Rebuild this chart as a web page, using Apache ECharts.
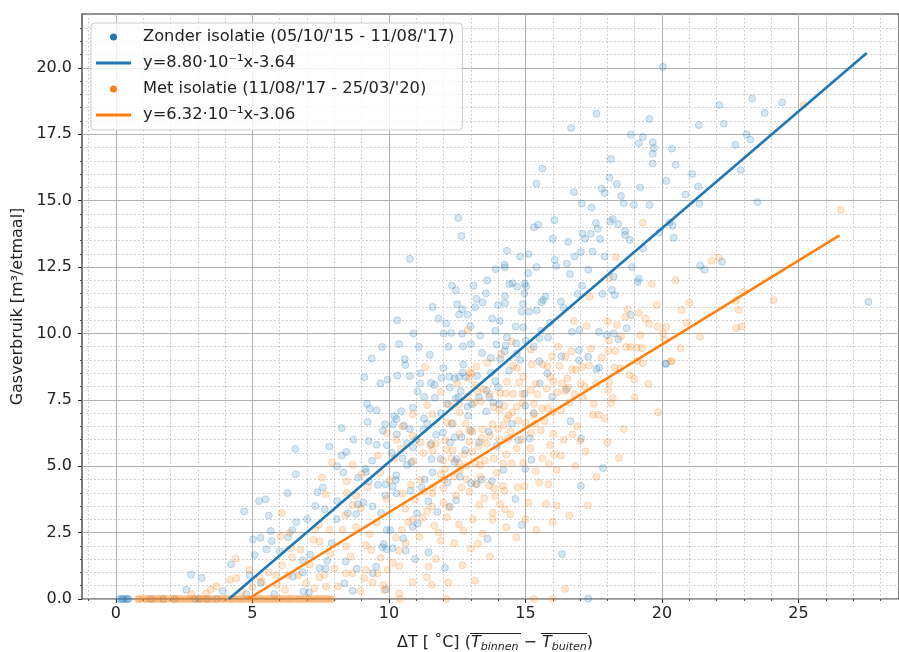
<!DOCTYPE html>
<html>
<head>
<meta charset="utf-8">
<script src="https://cdn.jsdelivr.net/npm/echarts@6/dist/echarts.min.js"></script>
<style>html,body{margin:0;padding:0;background:#fff}#c{width:899px;height:652px}</style>
</head>
<body>
<div id="c"></div>
<script>
// ---------- data ----------
const xTicks = [0, 5, 10, 15, 20, 25];
const xMinorTicks = [-1,1,2,3,4,6,7,8,9,11,12,13,14,16,17,18,19,21,22,23,24,26,27,28];
const yTicks = [0, 2.5, 5, 7.5, 10, 12.5, 15, 17.5, 20];
const yMinorTicks = [0.5,1,1.5,2,3,3.5,4,4.5,5.5,6,6.5,7,8,8.5,9,9.5,10.5,11,11.5,12,13,13.5,14,14.5,15.5,16,16.5,17,18,18.5,19,19.5,20.5,21,21.5];

const zonderName = "Zonder isolatie (05/10/'15 - 11/08/'17)";
const zonderFitName = "y=8.80·10⁻¹x-3.64";
const metName = "Met isolatie (11/08/'17 - 25/03/'20)";
const metFitName = "y=6.32·10⁻¹x-3.06";

const zonderFit = [[4.14, 0], [27.5, 20.56]];
const metFit = [[4.84, 0], [26.5, 13.69]];

const zonderPts = [
[0.12,0],[0.2,0],[0.3,0],[0.38,0],[0.47,0],[0.25,0],[0.42,0],[1.3,0],[1.75,0],[2.15,0],[2.9,0],[3.05,0],[3.35,0],[3.7,0],
[6.57,5.65],[7.82,5.74],[9.26,5.95],[9.55,5.81],[8.27,5.4],[8.44,5.54],[9.38,5.21],[8.33,4.76],[6.59,4.7],[8.87,4.57],[9.13,4.9],[9.16,4.78],[9.26,4.43],[6.29,3.99],[7.39,4.02],[7.58,4.2],[8.1,3.69],[8.86,3.57],[9.07,3.63],[9.4,3.49],[9.71,3.24],[5.24,3.69],[5.48,3.75],[4.7,3.3],[5.6,3.14],[7.0,3.01],[7.65,3.38],[8.09,3.01],[8.5,3.23],[8.8,3.2],[5.67,2.56],[6.46,2.6],[6.31,2.33],[5.3,2.31],[5.71,2.18],[5.02,2.25],[5.52,1.87],[5.08,1.66],[7.11,1.67],[6.85,1.46],[7.74,1.44],[7.46,1.16],[7.68,1.14],[8.42,1.41],[8.82,1.14],[9.41,0.97],[9.53,1.22],[9.77,1.95],[9.92,2.6],[9.89,0.36],[6.84,1.01],[6.48,0.84],[7.07,0.25],[5.8,0.18],[4.78,0.18],[3.92,0.3],[4.22,1.31],[2.75,0.92],[3.14,0.79],[2.58,0.35],[8.37,0.59],[8.67,0.31],[6.87,0.28],[9.92,5.79],
[9.37,9.06],[9.1,8.35],[9.2,7.35],[9.3,7.16],[9.55,7.11],[9.22,6.67],[8.27,6.44],[10.29,6.2],
[10.77,12.81],[14.32,13.11],[15.12,12.99],[13.91,12.42],[14.23,12.59],[14.25,12.49],[15.1,12.27],[12.31,11.81],[12.45,11.63],[14.41,11.86],[14.52,11.89],[14.69,11.76],[14.97,11.88],[15.02,11.78],[14.96,11.5],[13.55,11.51],[13.21,11.3],[13.43,11.17],[12.5,11.1],[12.68,10.91],[12.88,10.71],[12.57,10.71],[11.82,10.56],[12.1,10.38],[13.15,10.99],[14.0,11.07],[14.25,11.41],[14.25,11.14],[14.91,11.11],[14.85,10.82],[15.13,10.82],[15.41,10.87],[15.65,11.26],[15.58,11.17],[15.74,11.39],[13.78,10.56],[14.06,10.47],[14.64,10.26],[14.92,10.23],[15.57,10.1],[12.99,10.27],[12.28,10.02],[12.68,9.99],[13.34,9.92],[14.32,9.85],[15.01,9.73],[15.51,9.82],[15.83,9.85],[17.97,9.94],[18.4,9.78],[13.94,9.58],[14.27,9.54],[14.66,9.63],[12.18,9.5],[12.71,9.52],[9.75,9.49],[10.37,9.6],[13.41,9.27],[13.73,9.08],[14.24,9.33],[14.68,9.25],[15.5,8.95],[16.31,9.14],[16.96,9.37],[17.3,9.12],[16.96,8.99],[17.6,8.66],[17.7,8.71],[20.13,8.85],[10.58,9.03],[10.6,8.81],[11.99,8.7],[12.72,8.83],[14.07,9.04],[10.77,8.4],[9.95,8.26],[10.31,8.41],[11.16,8.5],[11.93,8.32],[12.22,8.37],[12.41,8.31],[12.57,8.37],[12.82,8.36],[12.71,8.52],[13.23,8.4],[13.74,8.52],[11.54,8.14],[11.67,8.06],[11.05,7.81],[11.14,8.12],[12.23,7.97],[12.63,7.83],[13.57,7.85],[14.0,7.98],[15.52,8.12],[13.67,7.61],[13.82,7.4],[11.29,7.61],[11.68,7.58],[12.45,7.55],[12.54,7.6],[12.13,7.35],[12.88,7.24],[13.04,7.33],[13.57,7.06],[14.04,7.33],[14.96,7.73],[14.99,7.28],[15.98,7.62],[10.88,7.2],[10.45,7.07],[9.69,8.12],[10.2,6.88],[10.28,6.78],[9.86,6.58],[9.78,6.34],[10.15,6.58],[10.55,6.53],[10.77,6.4],[11.28,6.8],[11.26,6.37],[11.98,6.27],[11.73,6.19],[11.55,5.84],[10.88,5.71],[10.66,5.86],[12.41,6.09],[12.24,5.89],[12.66,6.09],[13.0,6.34],[13.66,6.3],[13.95,5.76],[14.74,5.98],[15.16,6.05],[16.65,6.69],[17.04,6.04],[15.22,5.24],[14.99,4.9],[14.19,4.87],[13.77,4.44],[13.22,4.33],[13.4,4.5],[12.48,5.27],[12.41,5.16],[11.89,5.27],[11.56,5.27],[11.6,4.77],[11.31,4.5],[10.82,5.15],[10.66,5.05],[10.27,4.66],[10.14,4.24],[9.87,4.32],[10.25,4.48],[9.87,3.9],[10.79,4.08],[12.15,4.39],[13.01,4.36],[17.03,4.26],[17.84,4.93],
[10.28,3.98],[11.45,3.68],[11.03,3.23],[11.05,2.84],[10.87,2.72],[10.05,2.59],[10.53,2.28],[11.45,1.76],[10.96,1.51],[12.05,1.18],[12.23,3.48],[12.46,3.72],[11.78,3.28],[14.63,3.77],[14.86,2.79],[13.61,2.27],[16.34,1.69],[17.3,0.02],[10.14,1.91],[9.92,1.87],[10.62,1.82],[9.81,2.07],
[20.15,8.87],
[22.1,18.6],[23.3,18.85],[24.4,18.7],[23.76,18.3],[22.26,17.9],[23.1,17.5],[23.23,17.3],[22.69,17.1],[22.88,16.16],[23.5,14.95],[27.56,11.19],[21.35,17.85],[20.03,20.04],[17.6,18.27],[16.67,17.74],[19.54,18.08],[18.86,17.49],[19.3,17.4],[19.15,17.17],[19.66,17.2],[19.7,16.98],[19.66,16.77],[19.66,16.4],[20.36,16.96],[20.5,16.35],[18.13,16.57],[18.08,15.86],[18.35,15.63],[17.8,15.45],[17.9,15.29],[18.5,15.18],[16.78,15.33],[17.06,14.89],[17.42,14.74],[18.97,14.84],[19.54,14.84],[20.16,15.74],[21.1,16.0],[21.33,15.53],[20.86,15.23],[21.37,14.88],[16.06,14.27],[17.58,14.16],[17.65,13.94],[18.1,14.21],[18.2,14.31],[18.4,14.12],[18.65,13.86],[18.65,13.71],[18.82,13.52],[17.09,13.75],[17.18,13.57],[17.4,13.75],[17.73,13.56],[16.0,13.57],[16.56,13.45],[17.03,13.07],[17.46,13.08],[16.07,12.78],[16.12,12.54],[16.52,12.63],[16.63,12.24],[17.07,11.79],[16.91,11.49],[17.82,11.49],[18.17,11.64],[18.27,11.45],[18.23,12.14],[19.11,11.94],[19.15,12.06],[20.28,14.18],[20.39,14.06],[20.43,13.6],[21.4,12.55],[21.56,12.4],[22.2,12.7],[16.4,10.96],[18.86,10.7],[18.7,10.2],[18.23,10.0],[17.69,10.06],[16.7,10.06],[16.98,10.13],
[15.62,16.21],[15.4,15.64],[12.54,14.35],[12.66,13.67],[15.31,14.0],[15.47,14.09],
[10.1,5.5],[10.5,5.3],[11.0,6.0],[11.4,6.6],[11.9,7.0],[12.3,6.6],[12.9,6.9],[13.3,7.6],[13.9,8.2],[14.4,8.6],[14.8,9.0],[15.3,9.5],[15.9,10.4],[16.3,11.2],[16.8,12.9],[17.3,12.4],[17.9,12.9],[18.6,14.9],[19.2,15.5],[19.9,13.8],[19.3,13.2],[18.9,12.5],[15.4,12.5],[14.8,12.9],[13.6,12.0],[13.1,11.8],[12.0,10.0],[11.5,9.2],[11.1,9.5],[10.3,10.5],[10.9,10.0],[11.6,11.0],[13.0,9.6],[13.9,10.1],[15.8,8.5],[16.5,7.9],[15.3,7.0],[14.5,6.6],[13.3,5.9],[12.8,5.6],[11.2,4.2],[12.6,4.6],[8.7,6.0],[8.1,5.0],[7.3,3.5],[6.6,2.9],[6.0,1.8],[4.9,0.9],[5.3,0.6],[7.9,2.1],[9.6,4.3]
];

const metPts = [
[0.8,0],[0.93,0],[1.12,0],[1.28,0],[1.47,0],[1.63,0],[1.82,0],[2.04,0],[2.21,0],[2.38,0],[2.57,0],[2.72,0],[2.93,0],[3.12,0],[3.28,0],[3.46,0],[3.63,0],[3.84,0],[3.98,0],[4.17,0],[4.33,0],[4.52,0],[4.68,0],[4.87,0],[5.03,0],[5.22,0],[5.38,0],[5.57,0],[5.74,0],[5.92,0],[6.08,0],[6.27,0],[6.43,0],[6.62,0],[6.78,0],[6.97,0],[7.13,0],[7.32,0],[7.48,0],[7.67,0],[7.86,0],[10.4,0],[12.1,0],[15.3,0],[16.0,0],
[0.86,0],[1.05,0],[1.2,0],[1.38,0],[1.55,0],[1.72,0],[1.91,0],[2.12,0],[2.3,0],[2.47,0],[2.65,0],[2.83,0],[3.02,0],[3.2,0],[3.37,0],[3.55,0],[3.72,0],[3.91,0],[4.07,0],[4.25,0],[4.43,0],[4.6,0],[4.77,0],[4.95,0],[5.12,0],[5.3,0],[5.47,0],[5.65,0],[5.83,0],[6.0,0],[6.18,0],[6.35,0],[6.52,0],[6.7,0],[6.88,0],[7.05,0],[7.22,0],[7.4,0],[7.57,0],[7.76,0],[7.93,0],
[7.92,5.14],[8.67,5.05],[8.46,4.43],[8.46,4.0],[8.8,3.89],[9.22,4.21],[9.92,3.77],[7.55,4.57],[7.69,3.94],[8.67,3.53],[8.97,3.43],[9.55,2.88],[6.07,3.24],[7.43,2.8],[7.82,2.6],[7.24,2.23],[7.46,2.17],[8.43,1.99],[9.16,2.03],[9.35,1.85],[6.04,2.35],[6.36,2.49],[6.4,1.91],[6.45,1.57],[6.09,1.26],[6.68,0.89],[6.97,0.59],[7.7,0.47],[8.13,0.47],[9.1,0.78],[8.43,0.97],[9.8,0.53],[4.39,1.52],[4.9,1.09],[4.17,0.72],[5.26,0.84],[5.36,0.65],[5.9,0.53],[5.87,0.9],[3.47,0.36],[3.31,0.21],[2.77,0.19],
[3.68,0.47],[4.41,0.78],[7.27,0.4],[7.64,0.9],[8.67,0.97],[9.16,1.09],[9.59,0.97],[6.3,0.9],
[12.89,10.13],[18.06,9.74],[19.27,9.45],[18.69,9.49],[18.85,9.49],[19.08,9.47],[20.11,9.75],[17.4,9.43],[18.03,9.35],[18.29,9.34],[16.69,9.33],[16.47,9.13],[15.98,9.14],[14.11,9.22],[11.33,8.74],[12.96,8.54],[14.56,8.78],[14.68,8.7],[15.23,8.83],[15.62,8.83],[15.81,8.76],[16.24,8.78],[16.7,8.66],[16.84,8.63],[17.08,8.74],[17.33,8.79],[18.26,8.71],[18.48,8.7],[19.09,8.96],[19.3,8.88],[20.33,8.95],[18.81,8.44],[18.98,8.29],[18.06,8.16],[14.92,8.37],[14.77,8.16],[15.9,8.36],[16.02,8.19],[16.34,8.12],[16.53,8.3],[17.02,8.12],[17.17,7.99],[17.59,8.12],[18.03,7.87],[16.8,7.72],[16.45,7.83],[16.57,7.97],[15.78,7.93],[16.17,7.78],[15.38,8.1],[13.02,8.49],[12.94,8.31],[13.18,8.05],[13.45,7.91],[13.26,7.8],[14.32,8.19],[13.69,7.72],[14.07,7.75],[14.28,7.75],[14.55,7.72],[14.88,7.72],[15.19,7.87],[15.44,7.71],[12.88,7.62],[12.57,7.33],[12.18,7.32],[13.13,7.39],[13.37,7.45],[13.83,7.23],[14.04,7.13],[14.22,7.27],[14.38,6.91],[14.52,7.03],[14.68,7.24],[14.9,7.38],[15.31,7.35],[15.31,6.93],[15.61,7.17],[15.83,7.19],[16.02,7.04],[17.47,6.94],[17.67,6.94],[17.9,6.8],[18.2,7.57],[18.14,7.37],[19.86,7.03],[10.87,6.96],[11.59,6.96],[12.12,6.65],[12.34,6.62],[12.59,7.03],[12.82,6.6],[12.94,6.35],[13.06,6.3],[13.43,6.39],[13.79,6.57],[14.19,6.55],[14.32,6.79],[14.74,6.72],[15.01,6.64],[15.35,6.6],[15.56,6.35],[16.03,6.21],[16.72,6.2],[17.0,5.96],[17.2,5.55],[18.42,5.31],[16.3,5.4],[16.14,4.86],[16.83,5.01],[15.62,5.3],[15.18,5.68],[14.68,5.68],[14.36,6.02],[14.04,6.02],[13.57,5.85],[13.28,5.76],[12.95,5.93],[12.59,6.22],[12.06,5.99],[11.72,5.85],[11.51,5.8],[12.33,5.6],[12.09,5.64],[11.99,5.22],[12.05,4.9],[12.57,5.12],[12.6,4.86],[12.83,5.02],[13.16,5.11],[13.34,5.05],[13.51,5.21],[13.84,5.29],[14.19,5.1],[14.5,5.11],[14.92,5.13],[15.38,4.82],[15.86,5.08],[16.05,5.44],[10.88,5.2],[11.26,5.5],[11.15,5.89],[10.87,6.15],[11.6,5.58],[10.27,5.99],[10.43,5.66],[9.93,6.24],[9.69,4.76],[10.03,4.48],[10.5,3.97],[10.81,4.3],[11.15,4.48],[11.61,4.21],[12.0,4.17],[12.66,4.2],[12.84,4.5],[12.95,4.04],[13.67,4.28],[14.17,4.26],[14.23,4.07],[14.71,4.2],[14.96,4.25],[15.84,4.32],[12.03,4.5],[12.39,4.61],[11.6,3.98],
[13.18,4.32],[13.85,4.17],[15.5,4.38],[13.49,3.79],[13.89,3.88],[13.3,3.54],[14.07,3.58],[14.25,3.38],[14.44,3.19],[13.8,3.25],[13.8,3.0],[13.08,3.01],[12.57,2.81],[12.73,2.57],[15.11,3.63],[15.76,3.58],[16.14,3.52],[17.28,3.52],[16.61,3.14],[14.67,2.32],[13.43,2.47],[13.26,2.08],[13.16,0.69],[12.17,0.63],[11.57,0.54],[10.87,0.64],[11.39,0.82],[11.45,1.22],[12.69,1.27],[11.72,1.52],[11.11,2.35],[11.82,2.5],[11.23,3.06],[11.66,2.76],[12.12,3.08],[12.0,3.63],[11.57,3.48],[10.87,3.0],[10.48,2.6],[10.26,2.31],[10.38,1.82],[10.14,1.37],[10.38,1.24],[9.83,0.34],[10.38,0.21],[16.45,0.38],[10.62,2.1],
[20.68,9.44],[20.34,8.95],[20.03,10.0],[22.71,11.23],
[26.55,14.65],[25.18,18.6],[19.3,14.17],[18.31,12.88],[22.08,12.85],[21.82,12.74],[17.35,11.39],[18.07,12.09],[19.63,11.86],[20.5,12.0],[18.74,10.92],[19.81,11.07],[21.0,11.16],[20.72,10.89],[22.8,10.89],[24.09,11.26],[23.0,11.56],[16.78,10.47],[17.24,10.28],[18.02,10.45],[18.35,10.32],[18.66,10.63],[19.15,10.77],[19.4,10.56],[19.52,10.36],[19.85,10.26],[20.16,10.24],[20.9,10.4],[21.4,9.88],[22.72,10.21],[22.92,10.26],[19.21,9.94],
[10.6,3.4],[10.95,3.75],[11.3,4.05],[11.9,4.7],[12.3,5.3],[12.75,5.45],[13.05,5.55],[13.4,6.05],[13.7,6.15],[14.0,6.4],[14.45,6.3],[14.85,6.0],[15.2,6.25],[15.7,6.7],[16.3,7.1],[16.6,7.4],[17.1,7.6],[17.5,7.35],[16.9,6.5],[16.4,6.0],[15.9,5.8],[14.3,5.45],[13.95,4.75],[13.35,4.6],[12.45,3.9],[12.2,3.45],[11.4,3.3],[10.7,2.9],[11.9,2.2],[12.4,2.1],[13.0,1.9],[13.7,1.6],[14.3,2.7],[15.0,3.0],[15.4,2.6],[16.0,2.9],[17.6,4.6],[18.0,5.9],[18.6,6.4],[19.0,7.6],[19.5,8.1],[18.5,9.9],[17.8,9.1],[16.2,9.5],[15.2,9.4],[14.5,9.7],[13.6,8.9],[13.2,8.75],[12.5,8.1],[11.9,7.8],[11.4,7.3],[10.5,6.5],[10.2,5.3],[9.6,5.4],[9.0,4.7],[8.3,2.6],[8.8,2.7],[9.3,2.45],[9.7,1.55],[8.95,0.3],[9.4,0.62],[8.0,1.15],[7.45,0.82],[8.6,1.6],[9.95,1.1],[6.75,1.85],[7.3,2.6],[8.4,3.15],[7.1,1.3],[7.85,1.7],[5.6,1.0],[5.0,0.45],[4.6,0.3],[6.2,0.35]
];

// ---------- chart ----------
const BLUE = '#1f77b4', ORANGE = '#ff7f0e';
const FONT = 'DejaVu Sans';
const X_MIN = -1.24, X_MAX = 28.68, Y_MIN = 0, Y_MAX = 22.03;
const gridLine = '#b0b0b0';

const chart = echarts.init(document.getElementById('c'), null, {renderer: 'canvas'});

const option = {
  animation: false,
  backgroundColor: '#ffffff',
  textStyle: {fontFamily: FONT},
  grid: {left: 82, top: 14, right: -2, bottom: 53, show: true, borderColor: '#262626', borderWidth: 1.2, backgroundColor: 'transparent'},
  legend: {
    orient: 'vertical', left: 91, top: 23,
    itemWidth: 35, itemHeight: 7, itemGap: 6,
    padding: [4, 8, 5, 5],
    backgroundColor: 'rgba(255,255,255,0.8)',
    borderColor: '#cccccc', borderWidth: 1, borderRadius: 4,
    selectedMode: false, symbolKeepAspect: true,
    textStyle: {fontFamily: FONT, fontSize: 16.3, color: '#222', lineHeight: 20, padding: [0, 0, 0, 7]},
    data: [
      {name: zonderName, icon: 'circle', itemStyle: {color: BLUE, opacity: 1, borderWidth: 0}},
      {name: zonderFitName, icon: 'path://M0,0 L35,0 L35,3 L0,3 Z', itemStyle: {color: BLUE, opacity: 1, borderWidth: 0}},
      {name: metName, icon: 'circle', itemStyle: {color: ORANGE, opacity: 1, borderWidth: 0}},
      {name: metFitName, icon: 'path://M0,0 L35,0 L35,3 L0,3 Z', itemStyle: {color: ORANGE, opacity: 1, borderWidth: 0}}
    ]
  },
  xAxis: [
    {
      type: 'value', min: X_MIN, max: X_MAX, position: 'bottom',
      axisLine: {show: false, onZero: false},
      axisTick: {show: true, customValues: xTicks, length: 4, lineStyle: {color: '#262626', width: 1}},
      axisLabel: {show: true, customValues: xTicks, fontFamily: FONT, fontSize: 16, color: '#222', margin: 7, formatter: v => String(v)},
      splitLine: {show: true, lineStyle: {color: gridLine, width: 1}}
    },
    {
      type: 'value', min: X_MIN, max: X_MAX, position: 'bottom',
      axisLine: {show: false, onZero: false},
      axisTick: {show: true, customValues: xMinorTicks, length: 2, lineStyle: {color: '#262626', width: 0.8}},
      axisLabel: {show: false},
      splitLine: {show: true, lineStyle: {color: gridLine, width: 0.8, type: [1.5, 2.5]}}
    }
  ],
  yAxis: [
    {
      type: 'value', min: Y_MIN, max: Y_MAX, position: 'left',
      axisLine: {show: false, onZero: false},
      axisTick: {show: true, customValues: yTicks, length: 4, lineStyle: {color: '#262626', width: 1}},
      axisLabel: {show: true, customValues: yTicks, fontFamily: FONT, fontSize: 16, color: '#222', margin: 10, formatter: v => v.toFixed(1)},
      splitLine: {show: true, lineStyle: {color: gridLine, width: 1}},
      name: 'Gasverbruik [m³/etmaal]', nameLocation: 'middle', nameGap: 56, nameRotate: 90,
      nameTextStyle: {fontFamily: FONT, fontSize: 16, color: '#222'}
    },
    {
      type: 'value', min: Y_MIN, max: Y_MAX, position: 'left',
      axisLine: {show: false, onZero: false},
      axisTick: {show: true, customValues: yMinorTicks, length: 2, lineStyle: {color: '#262626', width: 0.8}},
      axisLabel: {show: false},
      splitLine: {show: true, lineStyle: {color: gridLine, width: 0.8, type: [1.5, 2.5]}}
    }
  ],
  series: [
    {
      name: zonderName, type: 'scatter', xAxisIndex: 0, yAxisIndex: 0, z: 2,
      symbol: 'circle', symbolSize: 7, data: zonderPts,
      itemStyle: {color: 'rgba(31,119,180,0.22)', borderColor: 'rgba(31,119,180,0.3)', borderWidth: 1}
    },
    {
      name: metName, type: 'scatter', xAxisIndex: 0, yAxisIndex: 0, z: 2,
      symbol: 'circle', symbolSize: 7, data: metPts,
      itemStyle: {color: 'rgba(255,127,14,0.22)', borderColor: 'rgba(255,127,14,0.3)', borderWidth: 1}
    },
    {
      name: zonderFitName, type: 'line', xAxisIndex: 0, yAxisIndex: 0, z: 4,
      symbol: 'none', data: zonderFit, lineStyle: {color: BLUE, width: 2.6}, itemStyle: {color: BLUE}
    },
    {
      name: metFitName, type: 'line', xAxisIndex: 0, yAxisIndex: 0, z: 4,
      symbol: 'none', data: metFit, lineStyle: {color: ORANGE, width: 2.6}, itemStyle: {color: ORANGE}
    }
  ],
  graphic: [
    {
      type: 'text', left: 397, top: 635, z: 10,
      style: {
        text: '{a|ΔT [ ˚C] (}{t|T}{s|binnen}{a| − }{t|T}{s|buiten}{a|)}',
        fill: '#222',
        rich: {
          a: {fontFamily: FONT, fontSize: 16, lineHeight: 20, fill: '#222'},
          t: {fontFamily: FONT, fontSize: 16, fontStyle: 'italic', lineHeight: 20, fill: '#222'},
          s: {fontFamily: FONT, fontSize: 11, fontStyle: 'italic', lineHeight: 11, fill: '#222', verticalAlign: 'bottom'}
        }
      }
    },
    {type: 'line', z: 10, shape: {x1: 470, y1: 633.5, x2: 521, y2: 633.5}, style: {stroke: '#222', lineWidth: 1}},
    {type: 'line', z: 10, shape: {x1: 541, y1: 633.5, x2: 587, y2: 633.5}, style: {stroke: '#222', lineWidth: 1}}
  ]
};
chart.setOption(option);
</script>
</body>
</html>
